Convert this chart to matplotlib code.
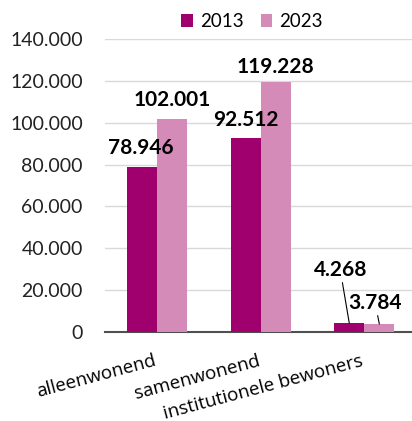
import matplotlib.pyplot as plt
import numpy as np
from matplotlib.ticker import FuncFormatter, MultipleLocator

categories = ["alleenwonend", "samenwonend", "institutionele bewoners"]
years = ["2013", "2023"]
vals_2013 = [78946, 92512, 4268]
vals_2023 = [102001, 119228, 3784]

COL_2013 = "#a0006e"
COL_2023 = "#d48bb7"

plt.rcParams["font.family"] = ["Lato", "DejaVu Sans"]


def nl(v):
    return f"{int(v):,}".replace(",", ".")


fig = plt.figure(figsize=(4.12, 4.21), dpi=100)
ax = fig.add_axes([0.255, 0.2114, 0.745, 0.696])

x = np.arange(len(categories))
w = 0.29
ax.bar(x - w / 2, vals_2013, w, color=COL_2013, label=years[0], zorder=3)
ax.bar(x + w / 2, vals_2023, w, color=COL_2023, label=years[1], zorder=3)

ax.set_ylim(0, 140000)
ax.set_xlim(-0.5, 2.46)
ax.yaxis.set_major_locator(MultipleLocator(20000))
ax.yaxis.set_major_formatter(FuncFormatter(lambda v, p: nl(v)))
ax.grid(axis="y", color="#d9d9d9", linewidth=1, zorder=0)
for s in ["top", "right", "left"]:
    ax.spines[s].set_visible(False)
ax.spines["bottom"].set_color("#505050")
ax.spines["bottom"].set_linewidth(1.5)
ax.tick_params(axis="y", length=0, labelsize=14, pad=16, colors="#222222")
ax.tick_params(axis="x", length=0, labelsize=13.5, pad=24)
ax.set_xticks(x)
ax.set_xticklabels(categories, rotation=15, ha="right", va="baseline",
                   rotation_mode="anchor", family=["Open Sans", "DejaVu Sans"])

lab_kw = dict(fontsize=15, fontweight="bold", ha="center", va="baseline")
# groups 1 and 2: labels above bars
offs_2013 = [(-1, 9), (0, 9)]
offs_2023 = [(0, 9), (0, 7)]
for i in range(2):
    ax.annotate(nl(vals_2013[i]), (x[i] - w / 2, vals_2013[i]), xytext=offs_2013[i],
                textcoords="offset points", **lab_kw)
    ax.annotate(nl(vals_2023[i]), (x[i] + w / 2, vals_2023[i]), xytext=offs_2023[i],
                textcoords="offset points", **lab_kw)
# group 3: labels with leader lines
ax.annotate(nl(vals_2013[2]), (x[2] - w / 2, vals_2013[2]), xytext=(-6.5, 34),
            textcoords="offset points", **lab_kw,
            arrowprops=dict(arrowstyle="-", color="black", lw=0.8, shrinkA=0, shrinkB=0))
ax.annotate(nl(vals_2023[2]), (x[2] + w / 2, vals_2023[2]), xytext=(-3, 11),
            textcoords="offset points", **lab_kw,
            arrowprops=dict(arrowstyle="-", color="black", lw=0.8, shrinkA=0, shrinkB=0))

fig.legend(loc="upper center", bbox_to_anchor=(0.612, 1.01), ncol=2, frameon=False,
           fontsize=13.5, handlelength=0.6, handleheight=0.7, columnspacing=0.9,
           handletextpad=0.4)

fig.savefig("out.png", dpi=100)
